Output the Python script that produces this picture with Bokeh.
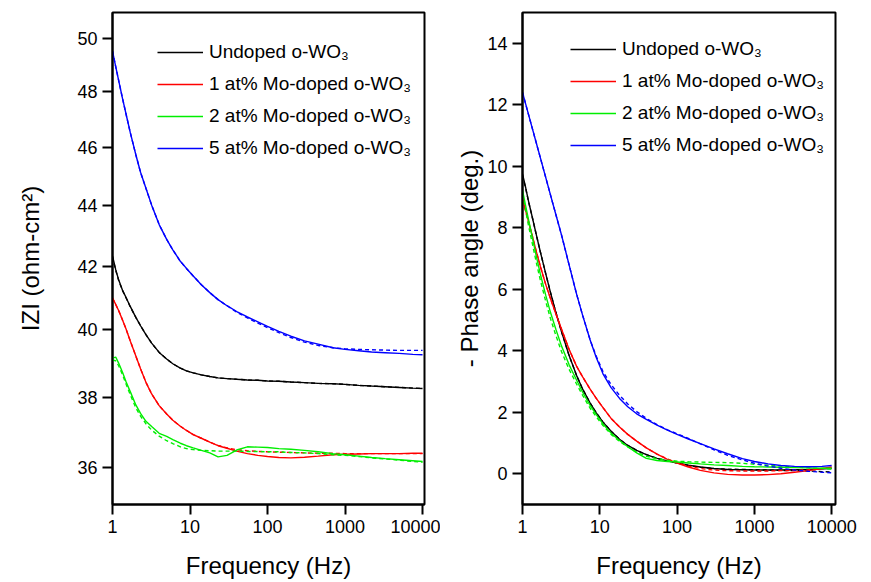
import math
from bokeh.plotting import figure
from bokeh.models import (Range1d, FixedTicker, NumeralTickFormatter, Legend, LegendItem,
                          Arrow, ColumnDataSource)
from bokeh.layouts import row
from bokeh.embed import file_html
from bokeh.resources import INLINE

# ---------------- data ----------------
freq = [1, 1.1, 1.2, 1.35, 1.5, 1.7, 2, 2.3, 2.7, 3.2, 4, 5, 6, 7.5, 9, 11, 14, 18, 23, 30,
        40, 55, 75, 100, 140, 200, 300, 450, 700, 1000, 1500, 2200, 3300, 5000, 7500, 10000]

labels = ["Undoped o-WO\u2083", "1 at% Mo-doped o-WO\u2083", "2 at% Mo-doped o-WO\u2083", "5 at% Mo-doped o-WO\u2083"]
colors = ["#000000", "#ff0000", "#00ee00", "#0000ff"]

# tick positions
x_major = [1, 10, 100, 1000, 10000]
x_minor = [m * d for d in [1, 10, 100, 1000] for m in range(2, 10)]
zy_major = [36, 38, 40, 42, 44, 46, 48, 50]
zy_minor = [35 + 0.25 * i for i in range(65) if (35 + 0.25 * i) not in zy_major]
py_major = [0, 2, 4, 6, 8, 10, 12, 14]
py_minor = [-1, 1, 3, 5, 7, 9, 11, 13, 15]

# |Z| (ohm-cm2): measured and fitted (dashed)
z_undoped = [42.33, 41.89, 41.57, 41.23, 41.00, 40.72, 40.39, 40.13, 39.86, 39.60, 39.32, 39.12,
             38.98, 38.85, 38.77, 38.71, 38.65, 38.60, 38.56, 38.54, 38.52, 38.50, 38.49, 38.47,
             38.46, 38.44, 38.42, 38.40, 38.39, 38.37, 38.34, 38.32, 38.30, 38.28, 38.26, 38.25]
z_undoped_fit = [42.30, 41.87, 41.55, 41.22, 40.99, 40.71, 40.39, 40.13, 39.86, 39.60, 39.32, 39.12,
                 38.98, 38.85, 38.77, 38.71, 38.65, 38.60, 38.56, 38.54, 38.52, 38.50, 38.49, 38.47,
                 38.46, 38.44, 38.42, 38.40, 38.39, 38.37, 38.34, 38.32, 38.30, 38.28, 38.26, 38.25]
z_1 = [40.99, 40.79, 40.60, 40.30, 40.02, 39.66, 39.21, 38.83, 38.43, 38.09, 37.75, 37.51,
       37.33, 37.16, 37.04, 36.92, 36.82, 36.71, 36.61, 36.54, 36.46, 36.39, 36.34, 36.31,
       36.28, 36.27, 36.29, 36.32, 36.36, 36.37, 36.38, 36.39, 36.39, 36.39, 36.40, 36.40]
z_1_fit = [40.99, 40.79, 40.60, 40.30, 40.02, 39.66, 39.21, 38.83, 38.43, 38.09, 37.75, 37.51,
           37.33, 37.16, 37.04, 36.92, 36.82, 36.71, 36.62, 36.55, 36.50, 36.47, 36.45, 36.44,
           36.43, 36.42, 36.41, 36.40, 36.40, 36.39, 36.39, 36.39, 36.39, 36.39, 36.39, 36.39]
z_2 = [39.15, 39.18, 39.00, 38.72, 38.44, 38.15, 37.77, 37.53, 37.30, 37.15, 36.96, 36.87,
       36.78, 36.68, 36.61, 36.55, 36.48, 36.41, 36.30, 36.34, 36.49, 36.58, 36.57, 36.56,
       36.53, 36.51, 36.48, 36.44, 36.39, 36.36, 36.32, 36.28, 36.25, 36.22, 36.19, 36.17]
z_2_fit = [39.09, 39.07, 38.92, 38.65, 38.37, 38.06, 37.69, 37.45, 37.23, 37.05, 36.88, 36.75,
           36.67, 36.58, 36.53, 36.50, 36.48, 36.47, 36.46, 36.46, 36.46, 36.45, 36.45, 36.44,
           36.44, 36.42, 36.41, 36.39, 36.36, 36.34, 36.31, 36.27, 36.24, 36.21, 36.17, 36.15]
z_5 = [49.51, 48.93, 48.42, 47.74, 47.17, 46.51, 45.74, 45.13, 44.58, 44.01, 43.36, 42.87,
       42.53, 42.16, 41.93, 41.69, 41.41, 41.16, 40.94, 40.75, 40.57, 40.40, 40.25, 40.11,
       39.96, 39.81, 39.67, 39.57, 39.46, 39.41, 39.37, 39.33, 39.31, 39.29, 39.26, 39.25]
z_5_fit = [49.51, 48.93, 48.42, 47.74, 47.17, 46.51, 45.74, 45.13, 44.58, 44.01, 43.36, 42.87,
           42.53, 42.16, 41.93, 41.69, 41.41, 41.16, 40.94, 40.75, 40.55, 40.37, 40.21, 40.07,
           39.92, 39.77, 39.63, 39.53, 39.46, 39.43, 39.41, 39.40, 39.39, 39.38, 39.38, 39.38]

# - phase angle (deg.): measured and fitted (dashed)
ph_undoped = [9.75, 9.30, 8.85, 8.30, 7.80, 7.22, 6.50, 5.90, 5.25, 4.62, 3.85, 3.20,
              2.75, 2.30, 1.98, 1.68, 1.38, 1.12, 0.92, 0.76, 0.62, 0.50, 0.42, 0.35,
              0.28, 0.22, 0.17, 0.14, 0.13, 0.12, 0.12, 0.12, 0.13, 0.14, 0.16, 0.17]
ph_undoped_fit = [9.70, 9.28, 8.84, 8.30, 7.80, 7.22, 6.50, 5.90, 5.25, 4.62, 3.85, 3.20,
                  2.75, 2.30, 1.98, 1.68, 1.38, 1.12, 0.92, 0.76, 0.62, 0.50, 0.42, 0.35,
                  0.27, 0.21, 0.17, 0.15, 0.14, 0.13, 0.12, 0.11, 0.10, 0.09, 0.07, 0.06]
ph_1 = [8.95, 8.55, 8.20, 7.70, 7.25, 6.75, 6.15, 5.70, 5.20, 4.70, 4.05, 3.50,
        3.15, 2.75, 2.45, 2.15, 1.80, 1.52, 1.28, 1.06, 0.84, 0.64, 0.47, 0.35,
        0.22, 0.11, 0.03, -0.02, -0.04, -0.04, -0.03, 0.00, 0.05, 0.10, 0.17, 0.22]
ph_1_fit = [8.90, 8.52, 8.18, 7.70, 7.25, 6.75, 6.15, 5.70, 5.20, 4.70, 4.05, 3.50,
            3.15, 2.75, 2.45, 2.15, 1.80, 1.52, 1.28, 1.06, 0.84, 0.64, 0.48, 0.36,
            0.25, 0.17, 0.12, 0.10, 0.09, 0.09, 0.09, 0.10, 0.11, 0.13, 0.16, 0.20]
ph_2 = [9.22, 8.70, 8.25, 7.65, 7.10, 6.50, 5.80, 5.25, 4.70, 4.15, 3.55, 3.05,
        2.65, 2.22, 1.92, 1.62, 1.32, 1.08, 0.88, 0.68, 0.50, 0.43, 0.40, 0.38,
        0.35, 0.32, 0.29, 0.27, 0.24, 0.23, 0.22, 0.21, 0.20, 0.19, 0.18, 0.18]
ph_2_fit = [9.10, 8.55, 8.05, 7.45, 6.90, 6.30, 5.60, 5.05, 4.50, 3.97, 3.40, 2.92,
            2.55, 2.13, 1.85, 1.57, 1.28, 1.05, 0.87, 0.70, 0.57, 0.49, 0.44, 0.41,
            0.39, 0.38, 0.37, 0.36, 0.34, 0.31, 0.28, 0.25, 0.22, 0.19, 0.17, 0.15]
ph_5 = [12.40, 12.02, 11.67, 11.20, 10.78, 10.28, 9.63, 9.07, 8.43, 7.76, 6.80, 5.85,
        5.15, 4.35, 3.78, 3.25, 2.80, 2.45, 2.18, 1.95, 1.77, 1.58, 1.42, 1.28,
        1.13, 0.98, 0.81, 0.65, 0.49, 0.40, 0.32, 0.27, 0.24, 0.23, 0.24, 0.27]
ph_5_fit = [12.40, 12.02, 11.67, 11.20, 10.78, 10.28, 9.63, 9.07, 8.43, 7.76, 6.80, 5.85,
            5.15, 4.35, 3.82, 3.32, 2.90, 2.55, 2.27, 2.02, 1.80, 1.60, 1.43, 1.30,
            1.15, 0.97, 0.78, 0.60, 0.45, 0.34, 0.25, 0.18, 0.12, 0.08, 0.05, 0.03]

FONT = "Liberation Sans"
FRAME_H = 492
MINOR_LEN = 5


def style_axes(p, ylabel, ylabel_standoff):
    for ax in (p.xaxis[0], p.yaxis[0]):
        ax.axis_line_width = 2
        ax.axis_line_color = "black"
        ax.major_tick_line_width = 2
        ax.major_tick_line_color = "black"
        ax.major_tick_out = 10
        ax.major_tick_in = 0
        ax.minor_tick_out = 0
        ax.minor_tick_in = 0
        ax.major_label_text_font = FONT
        ax.major_label_text_font_size = "18px"
        ax.major_label_text_color = "black"
        ax.major_label_standoff = 5
        ax.axis_label_text_font = FONT
        ax.axis_label_text_font_size = "24px"
        ax.axis_label_text_font_style = "normal"
        ax.axis_label_text_color = "black"
    p.xaxis[0].axis_label = "Frequency (Hz)"
    p.xaxis[0].axis_label_standoff = 16
    p.yaxis[0].axis_label = ylabel
    p.yaxis[0].axis_label_standoff = ylabel_standoff
    p.xaxis[0].ticker = FixedTicker(ticks=x_major)
    p.xaxis[0].formatter = NumeralTickFormatter(format="0")
    p.xgrid.visible = False
    p.ygrid.visible = False
    p.outline_line_color = "black"
    p.outline_line_width = 2
    p.background_fill_color = "white"
    p.border_fill_color = "white"


def outward(start, end, px, npx, log):
    # value that lies `px` screen pixels beyond `start`, away from the frame
    if log:
        return 10 ** (math.log10(start) - (math.log10(end) - math.log10(start)) * px / npx)
    return start - (end - start) * px / npx


def minor_ticks(p, xr, yr, frame_w, xticks, yticks, ylog):
    xo = outward(xr[0], xr[1], MINOR_LEN, frame_w, True)
    yo = outward(yr[0], yr[1], MINOR_LEN, FRAME_H, ylog)
    xs = dict(x0=xticks, x1=xticks, y0=[yr[0]] * len(xticks), y1=[yo] * len(xticks))
    ys = dict(x0=[xr[0]] * len(yticks), x1=[xo] * len(yticks), y0=yticks, y1=yticks)
    for d in (xs, ys):
        p.add_layout(Arrow(source=ColumnDataSource(d), x_start="x0", y_start="y0",
                           x_end="x1", y_end="y1", start=None, end=None,
                           line_color="black", line_width=1.5))


def add_series(p, meas, fits, loc):
    items = []
    for lab, col, m, f in zip(labels, colors, meas, fits):
        r = p.line(freq, m, line_color=col, line_width=1.4)
        p.line(freq, f, line_color=col, line_width=1.4, line_dash="4 3")
        items.append(LegendItem(label=lab, renderers=[r]))
    leg = Legend(items=items, location=loc, padding=0, spacing=10, margin=0,
                 glyph_width=46, glyph_height=22, label_height=22, label_standoff=6,
                 label_text_font=FONT, label_text_font_size="19px",
                 label_text_color="black",
                 border_line_alpha=0, background_fill_alpha=0)
    p.add_layout(leg)


# ---------------- left: |Z| ----------------
XR1, YR1 = (1, 10600), (35, 51)
p1 = figure(width=440, height=582, x_axis_type="log", y_axis_type="log",
            x_range=Range1d(*XR1), y_range=Range1d(*YR1),
            output_backend="svg", toolbar_location=None,
            min_border_left=112, min_border_right=16, min_border_top=12, min_border_bottom=78)
style_axes(p1, "IZI (ohm-cm\u00b2)", 30)
p1.yaxis[0].ticker = FixedTicker(ticks=zy_major)
p1.yaxis[0].formatter = NumeralTickFormatter(format="0")
add_series(p1, [z_undoped, z_1, z_2, z_5], [z_undoped_fit, z_1_fit, z_2_fit, z_5_fit], (45, 345))
minor_ticks(p1, XR1, YR1, 312, x_minor, zy_minor, True)

# ---------------- right: -phase ----------------
XR2, YR2 = (1, 11200), (-1, 15)
p2 = figure(width=431, height=582, x_axis_type="log",
            x_range=Range1d(*XR2), y_range=Range1d(*YR2),
            output_backend="svg", toolbar_location=None,
            min_border_left=82, min_border_right=36, min_border_top=12, min_border_bottom=78)
style_axes(p2, "- Phase angle (deg.)", 1)
p2.yaxis[0].ticker = FixedTicker(ticks=py_major)
add_series(p2, [ph_undoped, ph_1, ph_2, ph_5], [ph_undoped_fit, ph_1_fit, ph_2_fit, ph_5_fit], (48, 348))
minor_ticks(p2, XR2, YR2, 313, x_minor, py_minor, False)

layout = row(p1, p2)
open("out.html", "w").write(file_html(layout, INLINE))
